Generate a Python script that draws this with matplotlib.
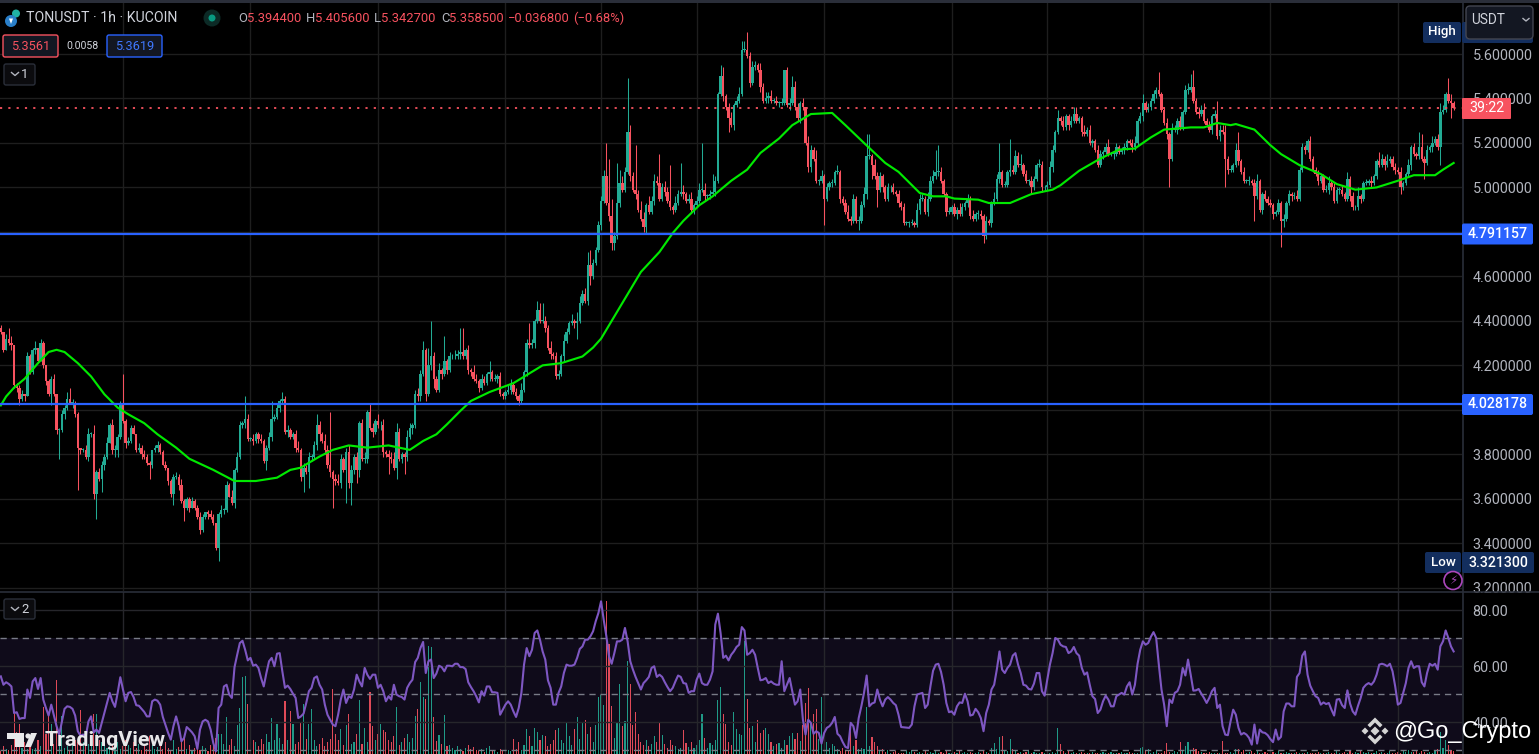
import matplotlib
matplotlib.use('Agg')
import matplotlib.pyplot as plt
from matplotlib.patches import Circle, FancyBboxPatch, Polygon, Rectangle

plt.rcParams['font.family'] = ['Roboto', 'DejaVu Sans']

W, H = 1539, 754

# hourly closes, one row per stretch between vertical grid lines
first_open = 4.37
closes = [
    4.35, 4.27, 4.32, 4.30, 4.29, 4.11, 4.10, 4.05, 4.07, 4.06, 4.24, 4.17, 4.27, 4.28, 4.22, 4.30,
    4.20, 4.13, 4.07, 4.14, 4.07, 3.91, 3.91, 3.98, 4.01, 4.05, 4.03, 4.03, 3.98, 3.83, 3.82, 3.82,
    3.79, 3.89, 3.89, 3.62, 3.72, 3.69, 3.75, 3.79, 3.85, 3.93, 3.82, 3.82, 3.88, 4.03, 3.95,
    3.85, 3.86, 3.92, 3.89, 3.82, 3.83, 3.80, 3.79, 3.76, 3.75, 3.82, 3.83, 3.84, 3.81, 3.75, 3.74,
    3.68, 3.62, 3.70, 3.70, 3.66, 3.59, 3.56, 3.60, 3.56, 3.59, 3.56, 3.52, 3.46, 3.52, 3.54, 3.53,
    3.52, 3.49, 3.38, 3.53, 3.55, 3.55, 3.66, 3.61, 3.58, 3.73, 3.79, 3.93, 3.94, 3.96, 3.87, 3.87,
    3.86, 3.89, 3.87, 3.86, 3.77, 3.83, 3.88, 3.96, 3.97, 4.01, 4.04, 4.05, 3.90, 3.91, 3.88, 3.89,
    3.83, 3.82, 3.70, 3.74, 3.72, 3.79, 3.79, 3.84, 3.93, 3.89, 3.86, 3.82, 3.75, 3.72, 3.69, 3.68,
    3.67, 3.78, 3.73, 3.81, 3.67, 3.73, 3.79, 3.73, 3.94, 3.78, 3.78, 3.99, 3.92, 3.90, 3.95, 3.93,
    3.93, 3.81, 3.80, 3.79, 3.78, 3.74, 3.90, 3.78, 3.80, 3.79, 3.88, 3.92, 3.93, 4.07, 4.06, 4.16,
    4.27, 4.07, 4.20, 4.24, 4.14, 4.09, 4.18, 4.16, 4.22, 4.18, 4.24, 4.24, 4.24, 4.25, 4.26, 4.24,
    4.27, 4.18, 4.17, 4.14, 4.13, 4.10, 4.14, 4.12, 4.16, 4.17, 4.14, 4.14, 4.15, 4.07, 4.06, 4.08,
    4.09, 4.11, 4.08, 4.06, 4.04, 4.09, 4.17, 4.30, 4.29, 4.30, 4.40, 4.45, 4.40, 4.40, 4.37, 4.28,
    4.25, 4.24, 4.15, 4.16, 4.24, 4.31, 4.35, 4.39, 4.40, 4.39, 4.40, 4.48, 4.52, 4.49, 4.65, 4.60,
    4.66, 4.72, 4.83, 4.94,
    5.05, 4.93, 4.87, 4.75, 4.78, 4.93, 5.02, 4.99, 5.07, 5.25, 5.05, 4.99, 4.97, 4.90, 4.86, 4.82,
    4.92, 4.89, 4.94, 5.03, 5.02, 4.95, 5.00, 4.98, 4.94, 4.91, 4.90, 4.93, 4.97, 4.98, 4.97, 4.94,
    4.95, 4.90, 4.92, 4.94,
    4.99, 4.99, 4.96, 4.96, 4.97, 4.98, 5.03, 5.42, 5.50, 5.41, 5.36, 5.31, 5.28, 5.37, 5.39, 5.42,
    5.62, 5.62, 5.59, 5.47, 5.54, 5.55, 5.53, 5.45, 5.39, 5.40, 5.41, 5.39, 5.39, 5.38, 5.38, 5.38,
    5.53, 5.37, 5.38, 5.45, 5.36, 5.31, 5.38, 5.36, 5.20, 5.09, 5.17, 5.13, 5.03, 5.03, 5.05, 4.95,
    5.00, 5.02, 5.02, 5.07, 5.07, 4.95, 4.93, 4.89, 4.86, 4.85, 4.95, 4.85, 4.85, 4.92, 4.97, 5.14,
    5.14, 5.10, 5.05, 4.99, 5.05, 5.00, 4.95, 5.00, 5.00, 4.98, 4.97, 4.93, 4.91, 4.84, 4.84, 4.84,
    4.84, 4.83, 4.90, 4.95, 4.95, 4.89, 4.95, 5.03, 5.05, 5.07, 5.07, 5.03, 4.97, 4.89, 4.89, 4.91,
    4.88, 4.90, 4.88, 4.91, 4.93, 4.95, 4.87, 4.86, 4.88, 4.88, 4.87, 4.78, 4.85, 4.84, 4.93, 4.95,
    5.04, 5.07, 5.01, 5.01, 5.07, 5.08, 5.07, 5.14, 5.10, 5.10, 5.06, 5.03, 5.03, 5.00, 5.04, 5.10,
    5.10, 5.00, 5.00, 5.01,
    5.09, 5.17, 5.25, 5.31, 5.30, 5.27, 5.32, 5.28, 5.30, 5.33, 5.30, 5.31, 5.25, 5.24, 5.26, 5.20,
    5.21, 5.17, 5.10, 5.15, 5.16, 5.18, 5.15, 5.15, 5.15, 5.18, 5.16, 5.17, 5.18, 5.21, 5.20, 5.18,
    5.20, 5.30, 5.32, 5.38,
    5.35, 5.36, 5.39, 5.42, 5.44, 5.42, 5.35, 5.29, 5.24, 5.13, 5.26, 5.26, 5.30, 5.27, 5.34, 5.44,
    5.44, 5.45, 5.39, 5.34, 5.33, 5.35, 5.30, 5.28, 5.26, 5.32, 5.33, 5.23, 5.26, 5.25, 5.13, 5.08,
    5.08, 5.10, 5.17, 5.12, 5.07, 5.03, 5.03, 5.03, 5.02, 4.96, 5.03, 4.90, 4.97, 4.95, 4.93, 4.92,
    4.88, 4.89, 4.93, 4.85, 4.86, 4.93, 4.97, 4.96, 4.96, 4.95, 5.08, 5.18, 5.17, 5.21, 5.13, 5.08,
    5.06, 5.03, 5.05, 4.99, 4.99, 5.02, 5.00, 4.94, 4.99, 4.99, 4.97, 4.95, 5.04, 4.96, 4.91, 4.91,
    4.96, 4.95, 5.02, 5.02, 5.03, 5.02, 5.05, 5.12, 5.10, 5.13, 5.10, 5.12, 5.13, 5.09, 5.08, 5.07,
    5.00, 5.02, 5.06, 5.10, 5.18, 5.15, 5.14, 5.18, 5.13, 5.11, 5.17, 5.18, 5.20, 5.22, 5.18, 5.34,
    5.35, 5.42, 5.39, 5.38, 5.3585,
]

# wick lengths above / below the body, in cents
wick_up = [
    1, 0, 2, 5, 3, 0, 1, 1, 2, 0, 2, 1, 1, 3, 0, 2, 1, 0, 1, 1,
    2, 0, 1, 2, 1, 3, 5, 2, 1, 1, 0, 1, 2, 3, 1, 4, 1, 2, 2, 1,
    3, 1, 3, 2, 1, 1, 13, 1, 2, 1, 1, 0, 2, 1, 2, 1, 1, 0, 1, 2,
    1, 1, 2, 0, 1, 1, 2, 1, 3, 1, 1, 1, 2, 1, 1, 2, 1, 0, 1, 2,
    1, 0, 1, 2, 1, 2, 1, 3, 1, 2, 2, 1, 10, 2, 1, 2, 1, 1, 2, 1,
    1, 2, 8, 1, 2, 1, 3, 1, 2, 1, 1, 2, 3, 1, 2, 1, 2, 1, 2, 5,
    2, 1, 3, 2, 24, 1, 2, 3, 2, 1, 2, 3, 2, 1, 2, 1, 2, 3, 1, 4,
    2, 1, 3, 2, 3, 1, 2, 2, 3, 4, 2, 1, 1, 3, 2, 1, 2, 3, 2, 4,
    1, 8, 16, 2, 1, 3, 1, 11, 1, 2, 1, 3, 2, 11, 11, 1, 2, 1, 3, 2,
    1, 2, 1, 1, 5, 1, 2, 1, 2, 1, 1, 2, 3, 1, 2, 1, 3, 1, 2, 9,
    2, 1, 4, 3, 8, 2, 1, 3, 1, 2, 2, 1, 3, 2, 1, 3, 1, 4, 3, 2,
    3, 6, 7, 2, 1, 2, 2, 3, 15, 20, 8, 2, 18, 6, 3, 2, 24, 3, 2, 20,
    2, 4, 3, 1, 4, 2, 3, 2, 13, 2, 3, 2, 16, 1, 3, 2, 13, 3, 1, 2,
    3, 1, 2, 3, 21, 3, 1, 2, 8, 2, 1, 5, 4, 1, 2, 3, 1, 2, 3, 4,
    4, 8, 2, 3, 2, 1, 3, 2, 3, 2, 3, 1, 2, 1, 2, 0, 1, 2, 5, 3,
    2, 1, 2, 0, 3, 2, 1, 4, 1, 3, 1, 2, 1, 2, 1, 3, 1, 1, 2, 3,
    1, 2, 1, 2, 2, 3, 10, 10, 1, 3, 2, 2, 1, 1, 2, 1, 2, 1, 2, 1,
    2, 1, 1, 2, 1, 3, 2, 2, 1, 3, 2, 3, 10, 12, 2, 1, 1, 2, 1, 2,
    1, 3, 2, 1, 2, 1, 3, 1, 2, 2, 1, 2, 1, 1, 3, 2, 13, 1, 2, 1,
    14, 2, 3, 2, 5, 1, 2, 1, 2, 1, 1, 3, 2, 1, 2, 3, 2, 1, 4, 1,
    2, 1, 1, 2, 3, 3, 1, 1, 3, 1, 2, 1, 1, 2, 2, 1, 2, 4, 1, 1,
    2, 1, 1, 2, 1, 1, 2, 3, 1, 2, 4, 1, 2, 1, 2, 1, 8, 1, 1, 2,
    1, 3, 2, 1, 2, 1, 2, 3, 6, 8, 1, 2, 2, 3, 1, 2, 1, 2, 6, 2,
    2, 3, 1, 2, 1, 3, 8, 1, 2, 1, 2, 1, 2, 3, 1, 1, 2, 1, 2, 1,
    1, 2, 1, 2, 1, 2, 1, 2, 3, 1, 2, 1, 1, 2, 1, 1, 2, 1, 1, 2,
    3, 1, 2, 1, 1, 2, 1, 3, 1, 2, 1, 4, 1, 1, 2, 1, 2, 1, 1, 4,
    2, 1, 3, 1, 1, 2, 1, 2, 1, 1, 3, 1, 2, 1, 7, 6, 1, 2, 1, 3,
    1, 2, 4, 2, 1, 7, 3, 1,
]
wick_down = [
    1, 1, 0, 1, 2, 1, 2, 3, 1, 2, 0, 1, 1, 2, 1, 0, 1, 2, 1, 5,
    1, 2, 13, 1, 2, 1, 0, 2, 1, 19, 2, 1, 1, 2, 1, 2, 11, 1, 6, 2,
    1, 0, 2, 3, 3, 1, 1, 2, 1, 1, 0, 1, 1, 2, 1, 1, 6, 1, 1, 2,
    1, 0, 1, 2, 1, 5, 1, 2, 1, 6, 1, 2, 0, 1, 1, 2, 1, 1, 2, 1,
    1, 1, 6, 1, 2, 1, 0, 1, 2, 1, 1, 1, 2, 1, 1, 2, 1, 2, 1, 1,
    4, 1, 2, 1, 1, 2, 1, 1, 2, 1, 1, 2, 1, 2, 7, 1, 7, 2, 1, 2,
    3, 1, 2, 1, 2, 13, 2, 1, 2, 1, 15, 2, 10, 2, 6, 3, 1, 2, 2, 1,
    2, 1, 1, 2, 2, 1, 8, 2, 1, 5, 1, 2, 8, 2, 1, 3, 1, 2, 2, 1,
    3, 1, 2, 4, 1, 1, 2, 1, 2, 1, 1, 1, 1, 2, 1, 1, 2, 2, 1, 1,
    2, 1, 1, 1, 3, 1, 1, 2, 1, 1, 1, 1, 2, 1, 1, 2, 1, 1, 2, 1,
    1, 2, 1, 1, 1, 2, 1, 2, 1, 1, 1, 1, 2, 1, 1, 1, 2, 7, 1, 1,
    1, 2, 4, 1, 1, 1, 2, 1, 1, 2, 3, 3, 1, 2, 1, 1, 1, 2, 1, 2,
    1, 1, 2, 3, 1, 1, 2, 1, 1, 1, 2, 1, 1, 2, 1, 1, 1, 2, 1, 1,
    1, 2, 1, 1, 1, 2, 1, 1, 1, 2, 1, 1, 2, 1, 6, 1, 2, 1, 1, 1,
    1, 1, 2, 1, 1, 1, 2, 1, 1, 2, 1, 1, 1, 2, 1, 1, 1, 2, 1, 1,
    1, 2, 1, 1, 2, 2, 1, 1, 2, 1, 12, 1, 1, 2, 1, 1, 2, 1, 1, 1,
    2, 1, 1, 4, 1, 1, 2, 1, 6, 1, 8, 1, 2, 1, 1, 2, 1, 1, 2, 1,
    1, 1, 2, 1, 1, 1, 2, 1, 1, 2, 1, 1, 1, 2, 1, 1, 2, 1, 1, 1,
    2, 1, 1, 1, 2, 1, 1, 1, 2, 1, 3, 1, 1, 2, 1, 1, 2, 1, 1, 1,
    2, 1, 1, 1, 2, 1, 1, 2, 3, 1, 1, 1, 2, 1, 1, 1, 2, 1, 1, 2,
    1, 1, 2, 1, 1, 1, 1, 2, 1, 1, 1, 2, 1, 1, 1, 2, 1, 1, 1, 2,
    1, 1, 1, 2, 1, 1, 2, 1, 1, 1, 2, 1, 1, 1, 1, 2, 1, 1, 1, 2,
    13, 1, 1, 2, 1, 1, 1, 2, 1, 1, 1, 2, 1, 1, 1, 1, 2, 1, 1, 2,
    1, 13, 2, 1, 1, 1, 2, 1, 1, 1, 2, 1, 11, 1, 1, 2, 1, 1, 1, 2,
    1, 1, 12, 3, 1, 1, 2, 1, 1, 1, 1, 2, 1, 1, 1, 1, 2, 1, 1, 1,
    2, 1, 1, 1, 2, 1, 1, 1, 2, 1, 1, 1, 2, 1, 1, 1, 2, 1, 1, 1,
    1, 2, 1, 1, 1, 2, 1, 3, 1, 1, 1, 2, 1, 1, 1, 1, 7, 1, 1, 2,
    1, 1, 8, 1, 1, 1, 7, 1,
]

# moving average, read at its bends
ema_idx = [0, 2, 5, 9, 14, 18, 21, 24, 29, 34, 39, 44, 48, 54, 59, 66, 71, 80, 88, 96, 104, 109, 113,
           115, 120, 125, 131, 138, 146, 154, 159, 164, 168, 173, 177, 184, 193, 204, 211, 219, 223, 226,
           235, 241, 248, 253, 257, 263, 268, 275, 281, 286, 293, 298, 305, 313, 318, 325, 333, 338, 346,
           351, 356, 359, 368, 372, 380, 388, 396, 399, 406, 414, 421, 427, 433, 438, 448, 453, 458, 463,
           465, 472, 478, 482, 489, 497, 503, 510, 518, 526, 532, 540, 543, 547]
ema_val = [4.02, 4.06, 4.10, 4.14, 4.21, 4.26, 4.27, 4.26, 4.21, 4.15, 4.07, 4.01, 3.98, 3.94, 3.89, 3.83,
           3.78, 3.73, 3.68, 3.68, 3.695, 3.73, 3.74,
           3.755, 3.79, 3.82, 3.84, 3.83, 3.84, 3.82, 3.86, 3.89, 3.935, 3.995, 4.04, 4.08, 4.12, 4.20,
           4.21, 4.24, 4.28, 4.32,
           4.50, 4.62, 4.71, 4.795, 4.85, 4.92, 4.96, 5.03, 5.08, 5.155, 5.22, 5.28, 5.33, 5.335, 5.28,
           5.20, 5.11, 5.07, 4.975, 4.96, 4.96, 4.95, 4.945, 4.93, 4.93, 4.97, 4.99, 5.01, 5.075, 5.13,
           5.17, 5.175, 5.225, 5.26, 5.27, 5.27, 5.29, 5.28,
           5.285, 5.26, 5.19, 5.15, 5.10, 5.06, 5.015, 4.99, 5.00, 5.03, 5.055, 5.055, 5.08, 5.11]

rsi = [
    56.3, 53.3, 54.2, 53.6, 52.7, 43.2, 43.5, 41.1, 41.4, 41.4,
    51.6, 48.6, 54.5, 55.7, 51.8, 55.7, 48.0, 45.0, 42.3, 46.2,
    42.3, 38.5, 35.5, 40.2, 44.7, 45.6, 45.4, 44.7, 42.3, 36.7,
    35.1, 35.5, 34.9, 40.2, 42.0, 36.3, 37.3, 36.1, 39.7, 43.2,
    46.8, 50.4, 47.4, 45.4, 50.4, 56.0, 51.6, 47.4, 50.4, 50.7,
    48.9, 46.0, 45.8, 44.7, 43.6, 42.0, 42.0, 47.4, 48.0, 47.6,
    46.2, 41.8, 39.0, 36.1, 33.7, 38.5, 42.0, 38.5, 33.1, 34.3,
    38.2, 37.3, 36.3, 34.9, 30.4, 37.3, 40.2, 40.8, 40.2, 37.3,
    32.5, 29.5, 45.0, 46.2, 52.7, 53.3, 49.8, 48.6, 59.6, 64.0,
    68.2, 69.0, 65.8, 62.0, 62.9, 60.1, 60.5, 59.3, 55.7, 52.7,
    57.5, 61.7, 62.9, 59.9, 64.4, 64.6, 58.1, 52.2, 53.0, 51.8,
    50.1, 48.6, 41.4, 42.0, 43.0, 46.8, 51.0, 52.2, 55.7, 56.3,
    53.3, 51.6, 46.2, 42.6, 40.8, 39.1, 38.5, 42.6, 48.0, 51.6,
    46.8, 49.2, 48.6, 51.6, 56.9, 54.5, 52.7, 59.3, 56.9, 55.4,
    56.9, 56.9, 52.2, 53.3, 51.0, 47.4, 49.2, 48.0, 53.3, 49.8,
    49.2, 48.9, 48.0, 52.2, 53.9, 55.1, 61.4, 62.9, 66.4, 68.6,
    57.5, 61.7, 62.3, 55.7, 57.3, 60.1, 59.6, 58.1, 60.1, 60.1,
    59.9, 60.8, 60.8, 59.6, 59.6, 58.9, 54.2, 52.5, 51.0, 49.2,
    47.0, 51.0, 49.4, 52.7, 52.7, 50.6, 50.6, 50.4, 42.6, 44.4,
    46.2, 47.4, 46.2, 43.8, 41.8, 45.0, 50.4, 60.5, 66.4, 63.5,
    65.8, 71.8, 72.7, 69.4, 65.2, 62.3, 54.9, 52.2, 46.2, 46.2,
    50.4, 52.7, 57.5, 60.5, 60.1, 60.1, 60.5, 62.9, 66.1, 67.0,
    69.4, 69.4, 70.6, 72.4, 76.0, 78.9, 83.1, 76.5, 70.6, 63.5,
    60.8, 64.6, 68.8, 68.8, 69.4, 73.6, 68.8, 61.7, 58.7, 56.1,
    53.9, 51.6, 53.9, 54.9, 56.1, 59.3, 59.9, 56.1, 56.9, 56.1,
    54.2, 52.5, 51.0, 52.2, 54.5, 56.6, 56.1, 53.9, 53.7, 50.4,
    51.0, 51.0, 55.1, 57.3, 53.9, 53.3, 53.3, 55.1, 58.1, 74.8,
    78.7, 71.8, 62.9, 63.7, 62.0, 64.0, 65.2, 66.8, 67.6, 73.9,
    72.7, 64.0, 64.6, 65.8, 64.0, 59.3, 54.9, 55.1, 55.7, 53.9,
    54.5, 53.7, 53.3, 53.3, 61.7, 51.0, 53.3, 55.7, 51.0, 46.2,
    47.4, 51.6, 40.8, 35.5, 40.8, 39.7, 35.8, 36.7, 36.1, 32.3,
    36.1, 37.9, 38.5, 39.7, 41.8, 35.8, 34.9, 32.8, 31.1, 30.7,
    39.7, 38.5, 34.3, 41.4, 45.6, 50.4, 56.6, 45.6, 46.6, 47.0,
    51.6, 48.0, 45.6, 48.0, 48.9, 48.0, 46.8, 46.0, 42.6, 38.2,
    38.1, 38.0, 37.9, 39.1, 45.6, 49.8, 50.1, 50.4, 45.0, 46.2,
    52.7, 58.3, 60.5, 60.8, 57.9, 53.3, 46.8, 43.5, 43.8, 42.6,
    45.6, 47.0, 46.8, 50.1, 47.4, 42.3, 42.6, 44.7, 43.5, 41.4,
    36.7, 43.2, 46.2, 51.6, 53.3, 58.7, 65.2, 58.7, 57.5, 59.3,
    60.5, 63.7, 64.6, 60.5, 57.5, 53.3, 53.0, 51.8, 51.6, 53.7,
    57.5, 57.5, 51.0, 49.4, 55.1, 60.5, 64.6, 70.0, 69.4, 67.6,
    67.0, 66.8, 64.6, 65.2, 66.8, 64.6, 63.7, 59.3, 56.9, 57.7,
    53.3, 49.2, 48.2, 43.2, 44.4, 47.4, 49.4, 48.0, 45.6, 45.6,
    49.2, 49.8, 50.4, 49.8, 52.7, 54.2, 49.8, 53.3, 60.8, 65.8,
    68.8, 67.6, 68.2, 70.4, 72.1, 70.0, 60.5, 51.6, 46.2, 38.5,
    48.0, 46.8, 50.4, 51.0, 53.3, 59.3, 56.6, 62.3, 56.9, 51.2,
    51.3, 51.8, 50.1, 48.6, 46.8, 48.6, 51.0, 52.2, 45.0, 46.2,
    38.5, 35.5, 35.3, 40.2, 44.4, 42.6, 37.9, 35.5, 36.1, 35.5,
    34.3, 31.9, 39.1, 32.3, 37.3, 36.3, 36.1, 35.3, 33.9, 32.8,
    37.3, 33.7, 34.7, 43.8, 46.6, 46.6, 45.6, 45.6, 56.1, 57.5,
    63.7, 65.2, 56.9, 53.0, 51.0, 49.2, 48.6, 46.2, 47.0, 46.4,
    46.8, 44.4, 42.3, 48.0, 48.2, 46.0, 45.0, 51.3, 46.6, 43.8,
    42.6, 45.8, 48.6, 52.2, 53.3, 53.9, 53.3, 54.5, 56.9, 60.5,
    60.8, 60.5, 59.9, 60.8, 58.1, 52.7, 46.2, 46.8, 50.4, 53.9,
    59.3, 61.7, 59.3, 59.9, 59.9, 54.2, 52.7, 57.5, 60.8, 60.1,
    60.8, 58.7, 67.0, 68.8, 72.7, 70.0, 67.0, 65.2,
]

volumes = [
    3, 8, 5, 4, 9, 40, 22, 30, 6, 12, 5, 9, 5, 6, 14, 8, 47, 20, 40, 30,
    10, 74, 12, 38, 6, 8, 4, 10, 14, 12, 44, 12, 20, 10, 8, 40, 40, 14, 12, 10,
    6, 8, 10, 6, 12, 5, 8, 14, 9, 6, 12, 6, 10, 4, 8, 5, 18, 9, 5, 7,
    8, 5, 12, 6, 4, 14, 5, 7, 12, 16, 5, 9, 4, 6, 7, 4, 8, 6, 3, 9,
    12, 16, 20, 20, 10, 37, 9, 15, 8, 29, 46, 77, 78, 50, 20, 14, 12, 8, 15, 10,
    20, 12, 36, 14, 30, 16, 10, 53, 14, 43, 30, 10, 12, 31, 50, 15, 30, 45, 14, 8,
    10, 16, 8, 12, 15, 65, 20, 14, 25, 9, 29, 40, 10, 12, 20, 54, 10, 26, 12, 62,
    28, 14, 20, 30, 24, 22, 14, 12, 18, 47, 9, 12, 16, 20, 12, 16, 38, 45, 72, 57,
    55, 108, 107, 37, 13, 19, 10, 39, 8, 9, 6, 4, 8, 5, 3, 6, 9, 5, 7, 4,
    3, 5, 2, 6, 8, 3, 4, 2, 5, 3, 2, 4, 3, 15, 5, 12, 4, 9, 25, 18,
    8, 26, 22, 14, 19, 18, 8, 10, 14, 24, 26, 14, 11, 31, 18, 9, 25, 37, 15, 31,
    34, 20, 27, 12, 29, 57, 59, 49, 153, 110, 48, 16, 32, 70, 28, 33, 93, 70, 29, 42,
    20, 12, 9, 14, 8, 10, 18, 12, 31, 19, 10, 6, 14, 9, 8, 5, 6, 24, 11, 7,
    12, 6, 9, 14, 40, 16, 6, 11, 9, 14, 54, 67, 40, 30, 12, 9, 42, 25, 20, 19,
    113, 55, 26, 28, 12, 34, 21, 24, 26, 20, 12, 8, 10, 11, 6, 14, 9, 18, 21, 15,
    21, 13, 29, 51, 66, 30, 40, 45, 15, 57, 28, 12, 6, 10, 8, 5, 3, 6, 4, 4,
    27, 8, 14, 5, 6, 5, 47, 8, 17, 12, 8, 3, 5, 2, 4, 1, 2, 3, 1, 1,
    1, 3, 2, 4, 2, 1, 2, 1, 3, 1, 2, 1, 3, 1, 2, 1, 3, 1, 1, 2,
    1, 3, 1, 2, 1, 2, 1, 1, 2, 1, 3, 2, 1, 6, 11, 5, 17, 18, 4, 3,
    15, 5, 3, 1, 2, 1, 2, 4, 1, 2, 1, 1, 2, 1, 3, 1, 2, 1, 26, 10,
    3, 1, 3, 1, 2, 1, 1, 2, 1, 1, 1, 2, 1, 1, 1, 2, 1, 1, 2, 1,
    1, 1, 2, 1, 1, 2, 1, 1, 1, 6, 7, 3, 5, 1, 2, 4, 1, 1, 3, 11,
    2, 1, 3, 2, 12, 3, 8, 12, 4, 6, 5, 3, 2, 1, 1, 2, 1, 1, 1, 1,
    13, 1, 1, 2, 1, 5, 5, 2, 4, 1, 2, 3, 1, 4, 1, 1, 2, 1, 1, 2,
    1, 3, 1, 1, 2, 1, 1, 1, 2, 1, 1, 1, 2, 1, 1, 1, 2, 1, 1, 1,
    2, 1, 1, 3, 1, 1, 2, 1, 4, 1, 2, 1, 4, 2, 1, 2, 1, 1, 3, 1,
    2, 1, 1, 3, 1, 1, 2, 1, 3, 2, 4, 2, 2, 3, 1, 3, 2, 1, 2, 1,
    3, 5, 22, 6, 14, 9, 4, 3,
]

price_ticks = [5.6, 5.4, 5.2, 5.0, 4.8, 4.6, 4.4, 4.2, 4.0, 3.8, 3.6, 3.4, 3.2]
covered_ticks = [4.8, 4.0]  # sit under the blue level labels
rsi_ticks = [80, 60, 40]
# grid falls every 36 or 48 candles
grid_idx = [46, 94, 142, 190, 226, 262, 310, 358, 394, 430, 478, 526]
level_prices = [4.791157, 4.028178]
last_price = 5.3585

UP = '#22ab94'
DOWN = '#f7525f'
GRID = '#1e1e1e'
BLUE = '#2962ff'
TEXT = '#b2b5be'
BORDER = '#2a2e39'


def frac(x0, y0, x1, y1):
    # pixel box (top-left origin) to figure fractions
    return [x0 / W, 1 - y1 / H, (x1 - x0) / W, (y1 - y0) / H]


fig = plt.figure(figsize=(W / 100, H / 100), dpi=100, facecolor='black')
back = fig.add_axes(frac(0, 592, 1462, 754), facecolor='black', zorder=0)
vol = fig.add_axes(frac(0, 592, 1462, 754), zorder=1)
ax2 = fig.add_axes(frac(0, 592, 1462, 754), zorder=2)
ax = fig.add_axes(frac(0, 3, 1462, 591), facecolor='black', zorder=3)

n = len(closes)
xs = list(range(n))
opens = [first_open] + closes[:-1]
highs = [max(o, c) + u / 100 for o, c, u in zip(opens, closes, wick_up)]
lows = [min(o, c) - d / 100 for o, c, d in zip(opens, closes, wick_down)]
cols = [UP if c >= o else DOWN for o, c in zip(opens, closes)]

# price pane
ax.vlines(xs, lows, highs, colors=cols, linewidth=0.75, zorder=3)
ax.bar(xs, [max(abs(c - o), 0.004) for o, c in zip(opens, closes)],
       bottom=[min(o, c) for o, c in zip(opens, closes)],
       width=0.92, color=cols, linewidth=0, zorder=4)
ax.plot(ema_idx, ema_val, color='#00e900', linewidth=1.55, zorder=5)
for lv in level_prices:
    ax.axhline(lv, color=BLUE, linewidth=1.6, zorder=6)
ax.axhline(last_price, color=DOWN, linewidth=1.3, linestyle=(0, (1.2, 3.4)), zorder=6)

x_left = -0.3
x_right = 550.15
ax.set_xlim(x_left, x_right)
ax.set_ylim(5.6 - (591 - 54) / 222.4, 5.6 - (3 - 54) / 222.4)
ax.set_yticks(price_ticks)
ax.set_yticklabels(['' if p in covered_ticks else '%.6f' % p for p in price_ticks])
ax.set_xticks(grid_idx)
ax.tick_params(axis='x', length=0, labelbottom=False)
ax.yaxis.tick_right()
ax.tick_params(axis='y', length=0, labelsize=10.4, labelcolor=TEXT, pad=7.5)
ax.grid(True, color=GRID, linewidth=1, zorder=0)
ax.set_axisbelow(True)

# rsi pane: band at the back, then volume, then grid and line
rsi_lim = (80 - (754 - 610) / 2.8, 80 - (592 - 610) / 2.8)
back.set_xlim(x_left, x_right)
back.set_ylim(rsi_lim)
back.axhspan(30, 70, color='#0f0b1a', linewidth=0)
back.set_xticks([])
back.set_yticks([])

vol.set_xlim(x_left, x_right)
vol.set_ylim(0, 162)
vol.bar(xs, volumes, width=0.42, color=cols, linewidth=0, alpha=0.9)
vol.set_xticks([])
vol.set_yticks([])
vol.patch.set_visible(False)

ax2.set_xlim(x_left, x_right)
ax2.set_ylim(rsi_lim)
ax2.patch.set_visible(False)
ax2.set_xticks(grid_idx)
ax2.set_yticks(rsi_ticks)
ax2.set_yticklabels(['%.2f' % t for t in rsi_ticks])
ax2.tick_params(axis='x', length=0, labelbottom=False)
ax2.yaxis.tick_right()
ax2.tick_params(axis='y', length=0, labelsize=10.4, labelcolor=TEXT, pad=7.5)
ax2.grid(True, color='#26262b', linewidth=1, zorder=1)
ax2.set_axisbelow(True)
for lv in [70, 50, 30]:
    ax2.axhline(lv, color='#787b86', linewidth=1, linestyle=(0, (4.5, 3.5)), zorder=2)
ax2.plot(xs, rsi, color='#7e57c2', linewidth=1.5, zorder=6)

for a in (ax, ax2, vol, back):
    for s in a.spines.values():
        s.set_visible(False)

# interface chrome drawn in pixel coordinates
ui = fig.add_axes([0, 0, 1, 1], zorder=20)
ui.set_xlim(0, W)
ui.set_ylim(H, 0)
ui.axis('off')
ui.patch.set_alpha(0)


def box(x0, y0, x1, y1, face, edge='none', round_px=2, lw=1, z=3):
    ui.add_patch(FancyBboxPatch((x0 + round_px, y0 + round_px), x1 - x0 - 2 * round_px, y1 - y0 - 2 * round_px,
                                boxstyle='round,pad=%g,rounding_size=%g' % (round_px, round_px),
                                facecolor=face, edgecolor=edge, linewidth=lw, zorder=z, mutation_aspect=1))


def label(x, y, s, color='white', size=10, ha='left', weight='normal', z=5, family=None):
    return ui.text(x, y, s, color=color, fontsize=size, ha=ha, va='center', fontweight=weight,
                   zorder=z, family=family if family else plt.rcParams['font.family'])


def chevron(cx, cy, color='#b2b5be'):
    ui.plot([cx - 3.5, cx, cx + 3.5], [cy - 1.5, cy + 1.5, cy - 1.5], color=color, linewidth=1, zorder=5)


# pane borders
ui.add_patch(Rectangle((0, 0), W, 2.5, facecolor=BORDER, edgecolor='none', zorder=1))
ui.plot([0, W], [591.5, 591.5], color=BORDER, linewidth=1.2, zorder=1)
ui.plot([1462.5, 1462.5], [0, H], color=BORDER, linewidth=1.2, zorder=1)

# header
ui.add_patch(Circle((11, 21), 6, facecolor='#2a7fc9', edgecolor='none', zorder=4))
ui.add_patch(Polygon([(9, 18.5), (13, 18.5), (11, 24)], facecolor='white', edgecolor='none', zorder=5))
ui.add_patch(Circle((16, 13.5), 4, facecolor='#20b2a4', edgecolor='none', zorder=3))
label(26, 18, 'TONUSDT · 1h · KUCOIN', color='#d1d4dc', size=10.2)
ui.add_patch(Circle((212, 18), 8.5, facecolor='#0c2a26', edgecolor='none', zorder=4))
ui.add_patch(Circle((212, 18), 3.5, facecolor='#089981', edgecolor='none', zorder=5))
for x, letter, x_val, val in [(238, 'O', 247, '5.394400'), (306, 'H', 315, '5.405600'),
                              (374, 'L', 381, '5.342700'), (441, 'C', 449, '5.358500')]:
    label(x, 18, letter, color='#b2b5be', size=9.4)
    label(x_val, 18, val, color=DOWN, size=9.4)
label(508, 18, '−0.036800', color=DOWN, size=9.4)
label(573, 18, '(−0.68%)', color=DOWN, size=9.4)

# buy / sell boxes
box(3, 35, 58, 57, '#131722', edge=DOWN)
label(30.5, 46, '5.3561', color=DOWN, size=9.2, ha='center')
label(82.5, 46, '0.0058', color='#d1d4dc', size=7.6, ha='center')
box(107, 35, 162, 57, '#131722', edge=BLUE)
label(134.5, 46, '5.3619', color='#3f78ff', size=9.2, ha='center')

# pane number buttons
box(4, 64, 35, 85, '#0b0b0e', edge='#2a2e39')
chevron(15, 74)
label(25, 74.5, '1', color='#d1d4dc', size=9.4, ha='center')
box(4, 599, 35, 619, '#0b0b0e', edge='#2a2e39')
chevron(15, 609)
label(25, 609.5, '2', color='#d1d4dc', size=9.4, ha='center')

# price axis labels
for y, s in [(234, '4.791157'), (404.5, '4.028178')]:
    box(1462, y - 10.5, 1533, y + 10.5, BLUE, round_px=2)
    label(1497.5, y, s, color='white', size=10.2, ha='center', weight='medium')
box(1462, 98, 1511, 119, DOWN, round_px=1)
label(1486.5, 108.5, '39:22', color='white', size=10.2, ha='center')

# high / low flags
box(1423, 22, 1461, 43, '#132e5e', round_px=2)
label(1442, 32, 'High', color='white', size=9.6, ha='center', weight='medium')
box(1462, 22, 1533, 43, '#132e5e', round_px=2)
label(1497.5, 32.5, '5.700000', color='#d1d4dc', size=10.2, ha='center')
box(1425, 552, 1461, 573, '#132e5e', round_px=2)
label(1443, 563, 'Low', color='white', size=9.6, ha='center', weight='medium')
box(1462, 552, 1534, 573, '#132e5e', round_px=2)
label(1498, 563, '3.321300', color='white', size=10.2, ha='center', weight='medium')

# currency button hides most of the high value
box(1466, 6, 1533, 39, '#131722', edge='#434651', round_px=4, z=7)
label(1471, 20, 'USDT', color='#d1d4dc', size=9.8, z=8)
ui.plot([1523, 1526, 1529], [18.5, 21, 18.5], color='#b2b5be', linewidth=1, zorder=8)

# lightning badge
ui.add_patch(Circle((1453, 580.5), 9, facecolor='black', edgecolor='#ab47bc', linewidth=1.2, zorder=3))
label(1453, 580.5, '⚡', color='#ab47bc', size=8.5, ha='center', family='DejaVu Sans')

# TradingView mark
for patch in [Polygon([(7, 733), (24, 733), (24, 747), (15, 747), (15, 739), (7, 739)], facecolor='#e8e8ea', edgecolor='none', zorder=9),
              Polygon([(25, 747), (31, 733), (37, 733), (31, 747)], facecolor='#e8e8ea', edgecolor='none', zorder=9),
              Circle((28, 736), 2.6, facecolor='#e8e8ea', edgecolor='none', zorder=9)]:
    ui.add_patch(patch)
label(45, 741, 'TradingView', color='#e8e8ea', size=15.4, weight='bold', z=9)

# reposter mark
for cx, cy, r in [(1375, 731, 4.5), (1365, 731, 3.5), (1385, 731, 3.5)]:
    ui.add_patch(Polygon([(cx - r, cy), (cx, cy - r), (cx + r, cy), (cx, cy + r)], facecolor='#d4d4d4', edgecolor='none', zorder=9))
ui.add_patch(Polygon([(1367.5, 725), (1375, 717.5), (1382.5, 725), (1380, 727.5), (1375, 722.5), (1370, 727.5)],
                     facecolor='#d4d4d4', edgecolor='none', zorder=9))
ui.add_patch(Polygon([(1367.5, 737), (1375, 744.5), (1382.5, 737), (1380, 734.5), (1375, 739.5), (1370, 734.5)],
                     facecolor='#d4d4d4', edgecolor='none', zorder=9))
label(1393, 732, '@Go_Crypto', color='white', size=17, z=9, family='Liberation Sans')

fig.savefig('out.png', dpi=100, facecolor='black')
